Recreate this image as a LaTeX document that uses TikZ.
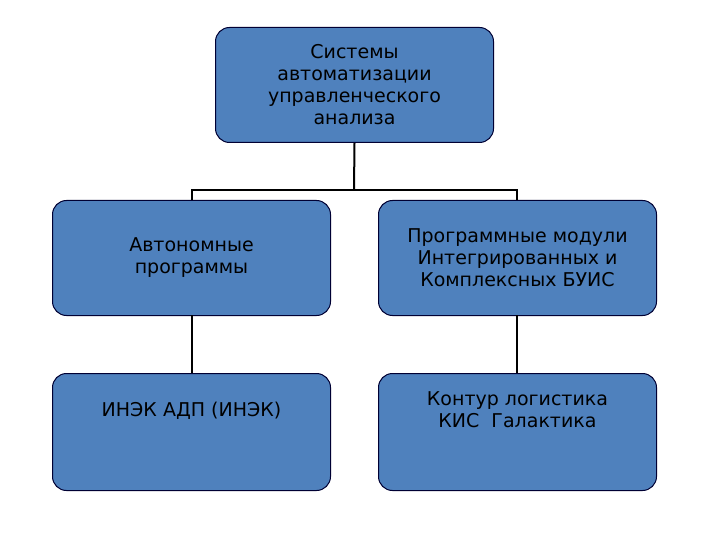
\documentclass[tikz,border=0pt]{standalone}
\usepackage{fontspec}
\setmainfont{DejaVu Sans}
\begin{document}
\begin{tikzpicture}[x=1pt,y=-1pt,
  bx/.style={draw=black!80!blue,line width=1pt,fill=blue!30!gray!50!cyan!60!black,fill=boxc,rounded corners=14pt,minimum width=278pt,minimum height=115pt,align=center,font=\fontsize{19}{22}\selectfont,anchor=north west,inner sep=2pt},
  ln/.style={line width=2pt,black}]
\definecolor{boxc}{HTML}{4F81BD}
\useasboundingbox (0,0) rectangle (720,540);
\node[bx] (top) at (215,27) {Системы\\автоматизации\\управленческого\\анализа};
\node[bx] (ml) at (52,200) {Автономные\\программы};
\node[bx] (mr) at (378,200) {Программные модули\\Интегрированных и\\Комплексных БУИС};
\node[bx,minimum height=117pt] (bl) at (52,373) {ИНЭК АДП (ИНЭК)\\[24pt]};
\node[bx,minimum height=117pt] (br) at (378,373) {Контур логистика\\КИС\ \ Галактика\\[22pt]};
\coordinate (j) at (354,190);
\draw[ln] (top.south) -- (j);
\draw[ln] (192,200) -- (192,190) -- (517,190) -- (517,200);
\draw[ln] (192,315) -- (192,373);
\draw[ln] (517,315) -- (517,373);
\end{tikzpicture}
\end{document}
